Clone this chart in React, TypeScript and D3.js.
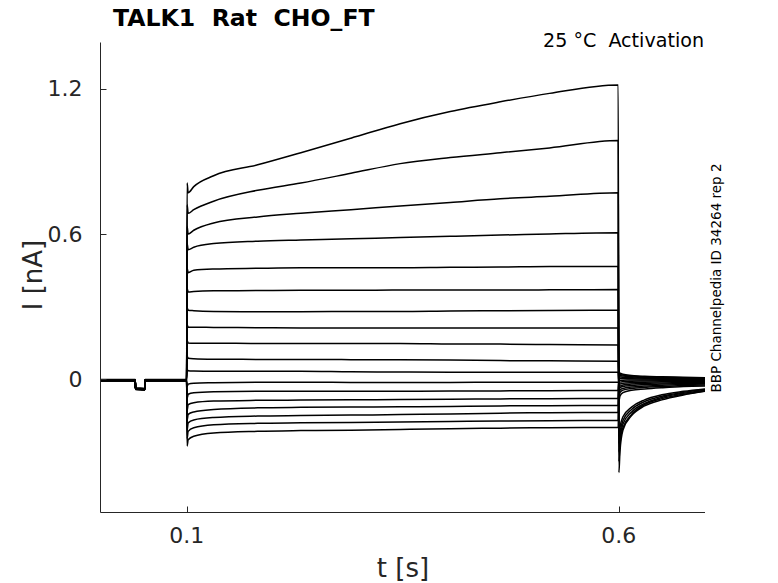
import React from "react";
import * as d3 from "d3";

// ---- data ----
const xTicks = [0.1, 0.6];
const yTicks = [0, 0.6, 1.2];

// holding period (all sweeps share the same short pre-pulse dip)
const holdTimes = [0.0, 0.0402, 0.0406, 0.0512, 0.0516, 0.0997];
const holdShape = [0.0, 0.0, -0.035, -0.037, 0.0, 0.0];
const holdLevels = [
  -0.002, -0.004, -0.006, -0.003, -0.005, -0.007, -0.002, -0.004, -0.006,
  -0.003, -0.005, -0.001, -0.004, -0.006, -0.003, -0.005, -0.002, -0.004,
];

// capacitive transient at step onset (t = 0.1 s)
const onsetPeak = [
  0.81, 0.72, 0.63, 0.56, 0.46, 0.375, 0.295, 0.225, 0.16, 0.095, 0.04, -0.03,
  -0.08, -0.13, -0.17, -0.21, -0.245, -0.275,
];

// test-pulse currents (nA)
const stepTimes = [0.1015, 0.108, 0.131, 0.182, 0.232, 0.29, 0.347, 0.405, 0.463, 0.52, 0.5995];
const stepCurrents = [
  [0.77, 0.795, 0.84, 0.885, 0.935, 0.995, 1.055, 1.105, 1.145, 1.18, 1.215],
  [0.685, 0.7, 0.735, 0.78, 0.81, 0.85, 0.89, 0.915, 0.935, 0.955, 0.985],
  [0.6, 0.615, 0.645, 0.67, 0.685, 0.7, 0.715, 0.73, 0.745, 0.755, 0.77],
  [0.535, 0.545, 0.56, 0.57, 0.575, 0.58, 0.585, 0.59, 0.595, 0.6, 0.605],
  [0.44, 0.45, 0.455, 0.458, 0.46, 0.46, 0.46, 0.462, 0.463, 0.465, 0.465],
  [0.36, 0.362, 0.365, 0.366, 0.367, 0.367, 0.368, 0.368, 0.368, 0.369, 0.37],
  [0.285, 0.283, 0.28, 0.279, 0.279, 0.28, 0.28, 0.282, 0.283, 0.284, 0.285],
  [0.215, 0.215, 0.214, 0.213, 0.212, 0.212, 0.212, 0.212, 0.212, 0.212, 0.212],
  [0.15, 0.149, 0.149, 0.148, 0.148, 0.148, 0.148, 0.146, 0.145, 0.143, 0.141],
  [0.087, 0.085, 0.083, 0.082, 0.082, 0.081, 0.08, 0.079, 0.077, 0.076, 0.074],
  [0.035, 0.034, 0.033, 0.033, 0.033, 0.031, 0.03, 0.029, 0.029, 0.029, 0.029],
  [-0.02, -0.016, -0.014, -0.012, -0.012, -0.013, -0.013, -0.013, -0.012, -0.012, -0.012],
  [-0.062, -0.056, -0.052, -0.05, -0.05, -0.05, -0.05, -0.049, -0.048, -0.047, -0.046],
  [-0.105, -0.097, -0.09, -0.087, -0.086, -0.085, -0.084, -0.083, -0.081, -0.08, -0.079],
  [-0.145, -0.135, -0.125, -0.118, -0.116, -0.115, -0.114, -0.112, -0.11, -0.109, -0.108],
  [-0.18, -0.168, -0.158, -0.152, -0.15, -0.148, -0.146, -0.143, -0.14, -0.138, -0.137],
  [-0.215, -0.2, -0.188, -0.182, -0.18, -0.178, -0.176, -0.174, -0.172, -0.171, -0.17],
  [-0.25, -0.235, -0.222, -0.215, -0.212, -0.21, -0.207, -0.204, -0.202, -0.2, -0.199],
];

// transient at step offset (t = 0.6 s)
const offsetPeak = [
  -0.385, -0.34, -0.3, -0.265, -0.235, -0.09, -0.07, -0.055, -0.045, -0.035,
  -0.025, -0.015, -0.005, 0.005, 0.015, 0.02, 0.025, 0.03,
];

// tail currents after the pulse
const tailTimes = [0.6015, 0.605, 0.615, 0.63, 0.65, 0.675, 0.7];
const tailCurrents = [
  [-0.3, -0.21, -0.15, -0.11, -0.085, -0.065, -0.05],
  [-0.27, -0.2, -0.145, -0.105, -0.08, -0.062, -0.048],
  [-0.25, -0.185, -0.135, -0.1, -0.075, -0.058, -0.045],
  [-0.225, -0.17, -0.125, -0.092, -0.07, -0.054, -0.042],
  [-0.2, -0.155, -0.115, -0.085, -0.064, -0.05, -0.04],
  [-0.07, -0.055, -0.045, -0.04, -0.035, -0.03, -0.028],
  [-0.055, -0.045, -0.038, -0.033, -0.03, -0.026, -0.024],
  [-0.045, -0.038, -0.032, -0.028, -0.025, -0.022, -0.02],
  [-0.035, -0.03, -0.026, -0.022, -0.02, -0.018, -0.016],
  [-0.028, -0.024, -0.02, -0.017, -0.015, -0.013, -0.012],
  [-0.02, -0.017, -0.014, -0.012, -0.01, -0.009, -0.008],
  [-0.012, -0.01, -0.008, -0.007, -0.006, -0.005, -0.005],
  [-0.004, -0.004, -0.003, -0.003, -0.003, -0.002, -0.002],
  [0.004, 0.003, 0.002, 0.001, 0.0, 0.0, 0.0],
  [0.01, 0.008, 0.006, 0.004, 0.003, 0.002, 0.002],
  [0.016, 0.013, 0.01, 0.007, 0.005, 0.004, 0.003],
  [0.02, 0.017, 0.013, 0.01, 0.008, 0.006, 0.005],
  [0.025, 0.021, 0.016, 0.012, 0.01, 0.008, 0.006],
];

const title = "TALK1  Rat  CHO_FT";
const subtitle = "25 °C  Activation";
const sideNote = "BBP Channelpedia ID 34264 rep 2";
const xLabel = "t [s]";
const yLabel = "I [nA]";

// ---- layout ----
const W = 778;
const H = 583;
const plotLeft = 100.5;
const plotRight = 705;
const plotTop = 42.5;
const plotBottom = 512.5;
const axisColor = "#262626";
const font = "DejaVu Sans, Verdana, sans-serif";
const pre: React.CSSProperties = { whiteSpace: "pre" };

export default function App() {
  const x = d3.scaleLinear().domain([0, 0.7]).range([plotLeft, plotRight]);
  const y = d3.scaleLinear().domain([-0.55, 1.39]).range([plotBottom, plotTop]);

  const line = d3
    .line<[number, number]>()
    .x((d) => x(d[0]))
    .y((d) => y(d[1]))
    .curve(d3.curveMonotoneX);

  const traces = stepCurrents.map((vals, i) => {
    const pts: [number, number][] = [];
    holdTimes.forEach((t, k) => pts.push([t, holdShape[k] + holdLevels[i]]));
    pts.push([0.1003, onsetPeak[i]]);
    stepTimes.forEach((t, k) => pts.push([t, vals[k]]));
    pts.push([0.6003, offsetPeak[i]]);
    tailTimes.forEach((t, k) => pts.push([t, tailCurrents[i][k]]));
    return line(pts) || "";
  });

  const tickLen = 6;

  return (
    <svg
      width={W}
      height={H}
      style={{ position: "absolute", left: 0, top: 0, background: "#fff" }}
      fontFamily={font}
    >
      <rect x={0} y={0} width={W} height={H} fill="#fff" />
      <defs>
        <clipPath id="plotClip">
          <rect x={plotLeft} y={plotTop} width={plotRight - plotLeft} height={plotBottom - plotTop} />
        </clipPath>
      </defs>

      <g clipPath="url(#plotClip)">
        {traces.map((d, i) => (
          <path key={i} d={d} fill="none" stroke="#000" strokeWidth={1.5} strokeLinejoin="round" />
        ))}
      </g>

      {/* axes */}
      <line x1={plotLeft} x2={plotLeft} y1={plotTop} y2={plotBottom} stroke={axisColor} strokeWidth={1} />
      <line x1={plotLeft} x2={plotRight} y1={plotBottom} y2={plotBottom} stroke={axisColor} strokeWidth={1} />

      {yTicks.map((v) => (
        <g key={"y" + v}>
          <line
            x1={plotLeft}
            x2={plotLeft + tickLen}
            y1={Math.round(y(v)) + 0.5}
            y2={Math.round(y(v)) + 0.5}
            stroke={axisColor}
            strokeWidth={1}
          />
          <text
            x={plotLeft - 18}
            y={y(v)}
            dy="0.36em"
            textAnchor="end"
            fontSize={22}
            fill={axisColor}
          >
            {String(v)}
          </text>
        </g>
      ))}

      {xTicks.map((v) => (
        <g key={"x" + v}>
          <line
            x1={Math.round(x(v)) + 0.5}
            x2={Math.round(x(v)) + 0.5}
            y1={plotBottom}
            y2={plotBottom - tickLen}
            stroke={axisColor}
            strokeWidth={1}
          />
          <text x={x(v)} y={543} textAnchor="middle" fontSize={22} fill={axisColor}>
            {String(v)}
          </text>
        </g>
      ))}

      <text x={403} y={577} textAnchor="middle" fontSize={26} fill={axisColor}>
        {xLabel}
      </text>
      <text
        transform={`translate(42,275) rotate(-90)`}
        textAnchor="middle"
        fontSize={26}
        fill={axisColor}
      >
        {yLabel}
      </text>

      <text x={113} y={26} fontSize={23.6} fontWeight="bold" fill="#000" style={pre}>
        {title}
      </text>
      <text x={704} y={47} textAnchor="end" fontSize={19.1} fill="#000" style={pre}>
        {subtitle}
      </text>
      <text
        transform={`translate(721,278) rotate(-90)`}
        textAnchor="middle"
        fontSize={13.5}
        fill="#000"
      >
        {sideNote}
      </text>
    </svg>
  );
}
